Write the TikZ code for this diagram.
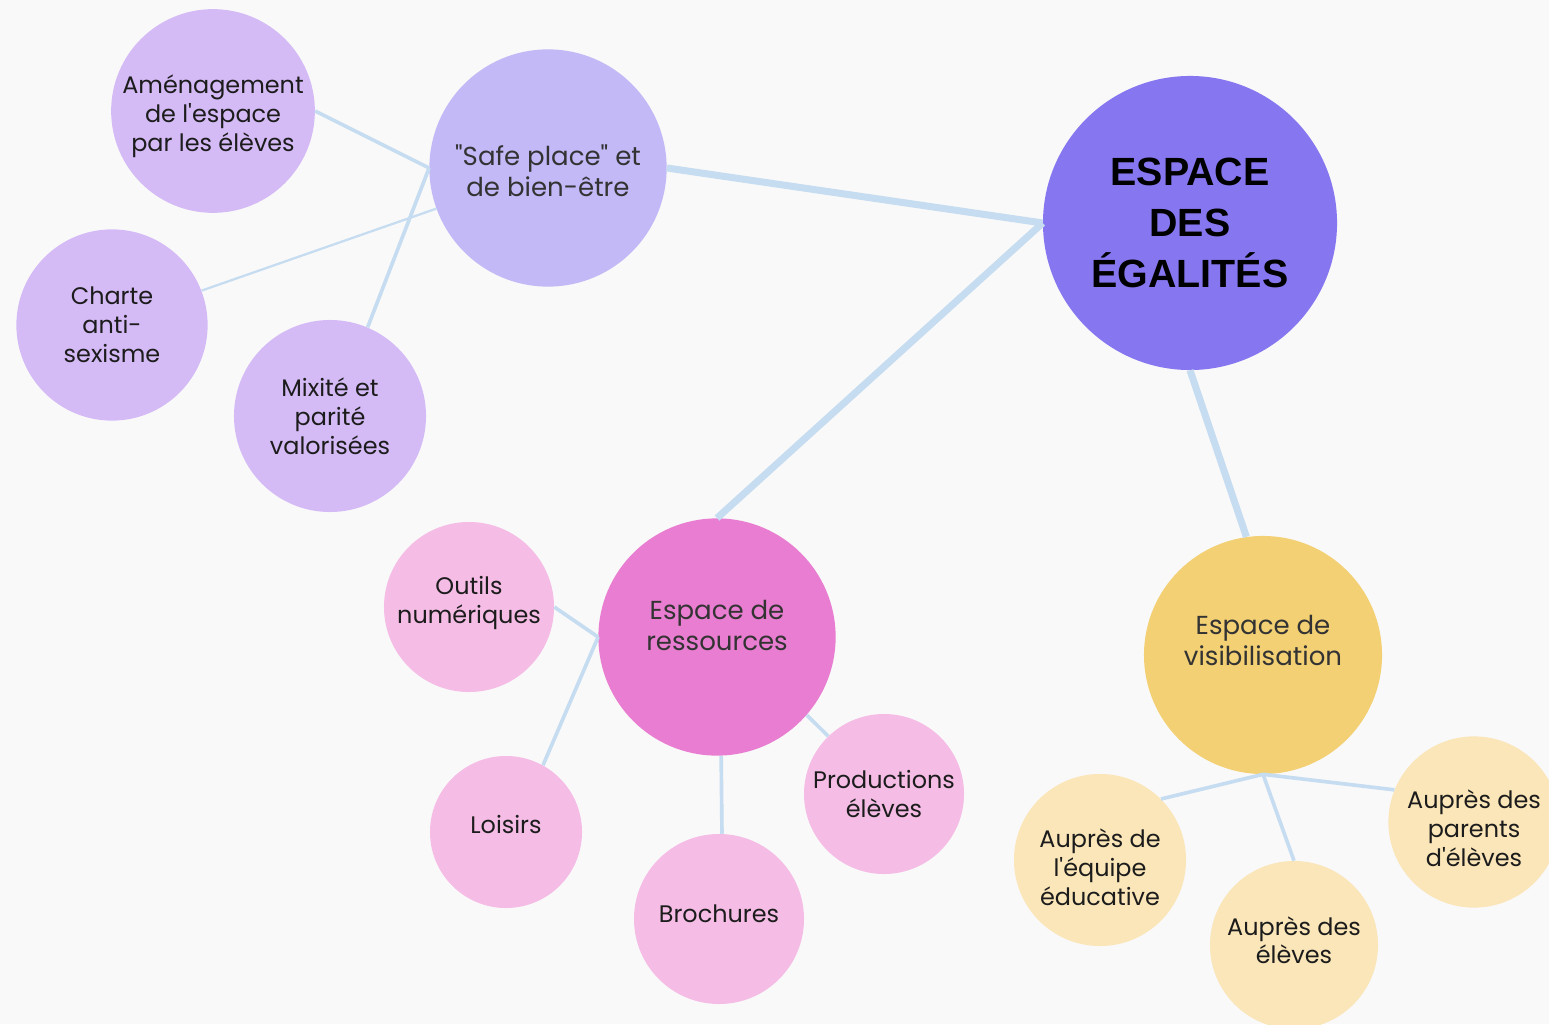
\documentclass[tikz,border=0pt]{standalone}
\usepackage{fontspec}
\setmainfont{Poppins}
\newfontfamily\titlefont{Liberation Sans}
\definecolor{paper}{HTML}{F9F9F9}
\definecolor{ink}{HTML}{1C1C1C}
\definecolor{linkblue}{HTML}{C6DCF0}
\definecolor{violet}{HTML}{8677F0}
\definecolor{lilac}{HTML}{C3B9F7}
\definecolor{lilac light}{HTML}{D5BBF6}
\definecolor{rose}{HTML}{E97DD1}
\definecolor{rose light}{HTML}{F5BDE6}
\definecolor{sun}{HTML}{F3D074}
\definecolor{sun light}{HTML}{FAE6B8}
\tikzset{root node/.style={circle,fill=violet,minimum size=7.35cm,inner sep=0pt,align=center,
             font=\titlefont\bfseries\fontsize{28}{36}\selectfont},
         branch node/.style={circle,inner sep=0pt,align=center,text=ink!90,
             font=\fontsize{18.5}{22}\selectfont},
         leaf node/.style={circle,inner sep=0pt,align=center,text=ink,
             font=\fontsize{17}{20.5}\selectfont},
         trunk/.style={draw=linkblue,line width=5pt},
         twig/.style={draw=linkblue,line width=2.6pt},
            }

\begin{document}
\begin{tikzpicture}[x=0.025cm,y=-0.025cm]
    \fill[paper] (0,0) rectangle (1549,1024);
    \useasboundingbox (0,0) rectangle (1549,1024);

    \node[root node] (1) at (1190,223) {ESPACE\\DES\\ÉGALITÉS};
    \node[branch node,fill=lilac,minimum size=5.93cm,text height=40pt] (2) at (548,168) {\textquotedbl Safe place\textquotedbl{} et\\de bien-être};
    \node[leaf node,fill=lilac light,minimum size=5.05cm,text height=62pt] (3) at (213,111) {Aménagement\\de l\textquotesingle espace\\par les élèves};
    \node[leaf node,fill=lilac light,minimum size=4.78cm] (4) at (112,325) {Charte\\anti-\\sexisme};
    \node[leaf node,fill=lilac light,minimum size=4.8cm] (5) at (330,416) {Mixité et\\parité\\valorisées};
    \node[branch node,fill=rose,minimum size=5.93cm,text depth=17pt] (6) at (717,637) {Espace de\\ressources};
    \node[leaf node,fill=rose light,minimum size=4.25cm,text depth=10pt] (7) at (469,607) {Outils\\numériques};
    \node[leaf node,fill=rose light,minimum size=3.8cm,text depth=11pt] (8) at (506,832) {Loisirs};
    \node[leaf node,fill=rose light,minimum size=4.25cm,text depth=7pt] (9) at (719,919) {Brochures};
    \node[leaf node,fill=rose light,minimum size=4cm] (10) at (884,794) {Productions\\élèves};
    \node[branch node,fill=sun,minimum size=5.95cm,text depth=21pt] (11) at (1263,655) {Espace de\\visibilisation};
    \node[leaf node,fill=sun light,minimum size=4.3cm,text height=65pt] (12) at (1100,860) {Auprès de\\l\textquotesingle équipe\\éducative};
    \node[leaf node,fill=sun light,minimum size=4.2cm,text depth=7pt] (13) at (1294,945) {Auprès des\\élèves};
    \node[leaf node,fill=sun light,minimum size=4.28cm,text height=63pt] (14) at (1474,822) {Auprès des\\parents\\d\textquotesingle élèves};

    \path[trunk]
    (2.east) edge (1.west)
    (1.west) edge (6.north)
    (1.south) edge (11.98)
    ;
    \path[twig]
    (2.west) edge (3.east)
    (2.west) edge (5.67)
    (6.west) edge (7.east)
    (6.west) edge (8.61)
    (6.-88) edge (9.88)
    (6.-41) edge (10.134)
    (11.south) edge (12.45)
    (11.south) edge (13.north)
    (11.south) edge (14.158)
    ;
    \path[twig,line width=1.6pt] (2.200) edge (4.21);
    %%
\end{tikzpicture}
\end{document}
